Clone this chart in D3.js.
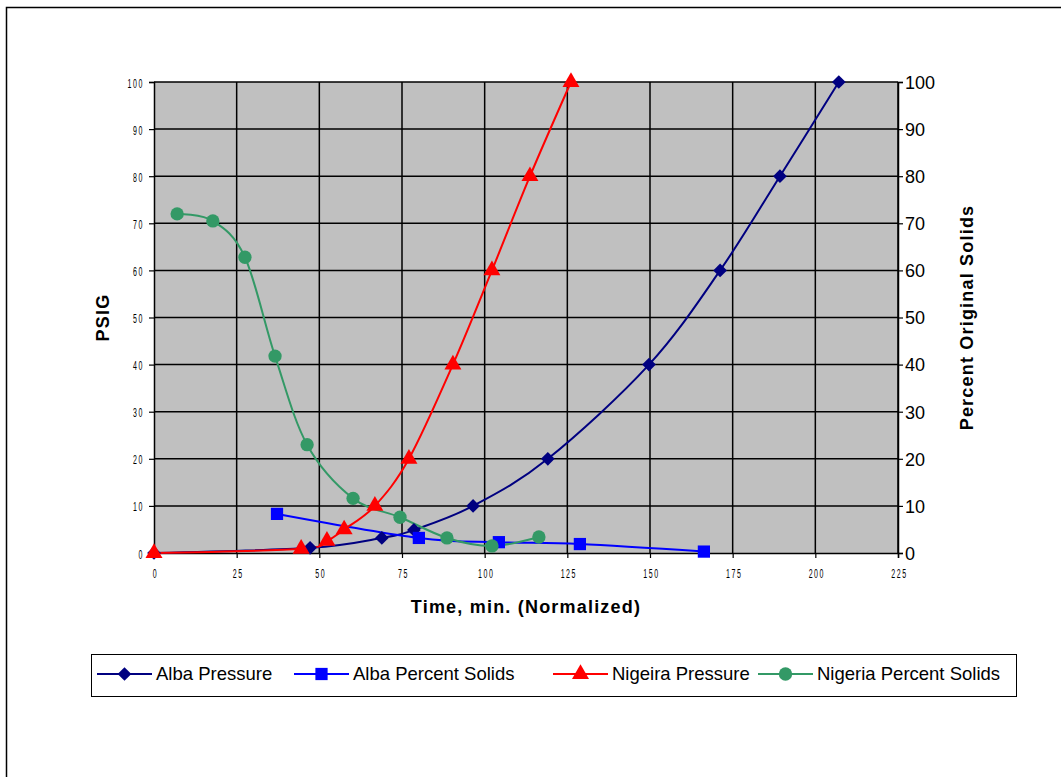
<!DOCTYPE html>
<html>
<head>
<meta charset="utf-8">
<script src="https://cdn.jsdelivr.net/npm/d3@7"></script>
<style>
  html, body { margin: 0; padding: 0; background: #fff; }
  svg { display: block; }
</style>
</head>
<body>
<svg id="chart" width="1061" height="777"></svg>
<script>
// Time axis ticks and value axis ticks
const timeTicks = [0, 25, 50, 75, 100, 125, 150, 175, 200, 225];
const valueTicks = [0, 10, 20, 30, 40, 50, 60, 70, 80, 90, 100];

// Alba pressure (PSIG) vs time
const albaPressureTime = [0, 47.2, 68.9, 78.6, 96.5, 119.1, 149.7, 171.2, 189.3, 207.1];
const albaPressure     = [0, 1.1, 3.2, 4.9, 10, 20, 40, 60, 80, 100];

// Alba percent original solids vs time
const albaSolidsTime = [37.2, 80.1, 104.3, 128.8, 166.3];
const albaSolids     = [8.3, 3.2, 2.3, 1.9, 0.3];

// Nigeira pressure (PSIG) vs time
const nigPressureTime = [0, 44.5, 52.3, 57.5, 66.8, 77.1, 90.4, 102.2, 113.7, 126.1];
const nigPressure     = [0, 0.9, 2.6, 5, 10, 20, 40, 60, 80, 100];

// Nigeria percent original solids vs time
const nigSolidsTime = [7.0, 17.8, 27.5, 36.6, 46.3, 60.2, 74.4, 88.6, 102.2, 116.4];
const nigSolids     = [72, 70.5, 62.8, 41.8, 23, 11.6, 7.6, 3.2, 1.5, 3.4];

const svg = d3.select("#chart");

// outer frame
svg.append("rect")
  .attr("x", 6.5).attr("y", 7.5)
  .attr("width", 1100).attr("height", 900)
  .attr("fill", "#fff").attr("stroke", "#000").attr("stroke-width", 1.5);

const plotL = 154, plotR = 898, plotT = 82, plotB = 553;
const x = d3.scaleLinear().domain([0, 225]).range([plotL, plotR]);
const yL = d3.scaleLinear().domain([0, 100]).range([plotB, plotT]);
const yR = d3.scaleLinear().domain([0, 100]).range([plotB, plotT]);

// plot area
svg.append("rect")
  .attr("x", plotL).attr("y", plotT)
  .attr("width", plotR - plotL).attr("height", plotB - plotT)
  .attr("fill", "#C0C0C0");

// gridlines
const grid = svg.append("g").attr("stroke", "#000").attr("stroke-width", 1.5);
grid.selectAll("line.h").data(valueTicks.slice(1)).join("line")
  .attr("class", "h")
  .attr("x1", plotL).attr("x2", plotR)
  .attr("y1", d => yL(d)).attr("y2", d => yL(d));
grid.selectAll("line.v").data(timeTicks.slice(1)).join("line")
  .attr("class", "v")
  .attr("x1", d => x(d)).attr("x2", d => x(d))
  .attr("y1", plotT).attr("y2", plotB);

// axes
const axisLeft = d3.axisLeft(yL).tickValues(valueTicks).tickSize(5).tickFormat(d3.format("d"));
const axisRight = d3.axisRight(yR).tickValues(valueTicks).tickSize(5).tickFormat(d3.format("d"));
const axisBottom = d3.axisBottom(x).tickValues(timeTicks).tickSize(5).tickFormat(d3.format("d"));

const gL = svg.append("g").attr("transform", `translate(${plotL},0)`).call(axisLeft);
const gR = svg.append("g").attr("transform", `translate(${plotR},0)`).call(axisRight);
const gB = svg.append("g").attr("transform", `translate(0,${plotB})`).call(axisBottom);

[gL, gR, gB].forEach(g => {
  g.select(".domain").attr("stroke", "#000").attr("stroke-width", 1.5);
  g.selectAll(".tick line").attr("stroke", "#000").attr("stroke-width", 1.2);
});

// narrow condensed tick labels on the left and bottom axes
gL.selectAll(".tick text")
  .attr("font-family", "Arial, 'Liberation Sans', sans-serif")
  .attr("font-size", 13.5)
  .attr("fill", "#000")
  .attr("letter-spacing", 3)
  .attr("x", null)
  .attr("dy", null)
  .attr("text-anchor", "end")
  .attr("transform", "translate(-10,5) scale(0.52,1)");

gB.selectAll(".tick text")
  .attr("font-family", "Arial, 'Liberation Sans', sans-serif")
  .attr("font-size", 13.5)
  .attr("fill", "#000")
  .attr("letter-spacing", 3)
  .attr("y", null)
  .attr("dy", null)
  .attr("text-anchor", "middle")
  .attr("transform", "translate(1,25) scale(0.52,1)");

gR.selectAll(".tick text")
  .attr("font-family", "Arial, 'Liberation Sans', sans-serif")
  .attr("font-size", 18)
  .attr("fill", "#000")
  .attr("x", 7)
  .attr("dy", "0.35em");

// axis titles
const titleFont = "Arial, 'Liberation Sans', sans-serif";
svg.append("text")
  .attr("transform", `translate(109,${(plotT + plotB) / 2}) rotate(-90)`)
  .attr("text-anchor", "middle")
  .attr("font-family", titleFont).attr("font-weight", "bold").attr("font-size", 18)
  .attr("letter-spacing", 1.2)
  .text("PSIG");
svg.append("text")
  .attr("transform", `translate(973,${(plotT + plotB) / 2}) rotate(-90)`)
  .attr("text-anchor", "middle")
  .attr("font-family", titleFont).attr("font-weight", "bold").attr("font-size", 18)
  .attr("letter-spacing", 1.2)
  .text("Percent Original Solids");
svg.append("text")
  .attr("x", 526).attr("y", 613)
  .attr("text-anchor", "middle")
  .attr("font-family", titleFont).attr("font-weight", "bold").attr("font-size", 18)
  .attr("letter-spacing", 1.2)
  .text("Time, min. (Normalized)");

// marker symbols
const markerShapes = {
  diamond: d3.symbol().type(d3.symbolDiamond2).size(120),
  square: d3.symbol().type(d3.symbolSquare).size(150),
  triangle: d3.symbol().type(d3.symbolTriangle).size(125),
  circle: d3.symbol().type(d3.symbolCircle).size(140)
};

const series = [
  { name: "Alba Pressure", xs: albaPressureTime, ys: albaPressure, y: yL, color: "#000080", marker: "diamond" },
  { name: "Alba Percent Solids", xs: albaSolidsTime, ys: albaSolids, y: yR, color: "#0000FF", marker: "square" },
  { name: "Nigeira Pressure", xs: nigPressureTime, ys: nigPressure, y: yL, color: "#FF0000", marker: "triangle" },
  { name: "Nigeria Percent Solids", xs: nigSolidsTime, ys: nigSolids, y: yR, color: "#339966", marker: "circle" }
];

const plot = svg.append("g");
series.forEach(s => {
  const pts = s.xs.map((t, i) => [t, s.ys[i]]);
  const line = d3.line()
    .x(d => x(d[0])).y(d => s.y(d[1]))
    .curve(d3.curveCatmullRom.alpha(0));
  plot.append("path")
    .datum(pts)
    .attr("d", line)
    .attr("fill", "none")
    .attr("stroke", s.color)
    .attr("stroke-width", 2);
});
series.forEach(s => {
  const pts = s.xs.map((t, i) => [t, s.ys[i]]);
  plot.selectAll(null).data(pts).join("path")
    .attr("transform", d => `translate(${x(d[0])},${s.y(d[1])})`)
    .attr("d", markerShapes[s.marker]())
    .attr("fill", s.color);
});

// legend
const legend = svg.append("g");
legend.append("rect")
  .attr("x", 91.5).attr("y", 654.5).attr("width", 925).attr("height", 42)
  .attr("fill", "#fff").attr("stroke", "#000").attr("stroke-width", 1);
const legendX = [97, 294, 553, 758];
series.forEach((s, i) => {
  const g = legend.append("g").attr("transform", `translate(${legendX[i]},674)`);
  g.append("line").attr("x1", 0).attr("x2", 55).attr("y1", 0).attr("y2", 0)
    .attr("stroke", s.color).attr("stroke-width", 2);
  g.append("path").attr("transform", "translate(27.5,0)")
    .attr("d", markerShapes[s.marker]()).attr("fill", s.color);
  g.append("text").attr("x", 59).attr("y", 0).attr("dy", "0.35em")
    .attr("font-family", titleFont).attr("font-size", 18.5)
    .text(s.name);
});
</script>
</body>
</html>
